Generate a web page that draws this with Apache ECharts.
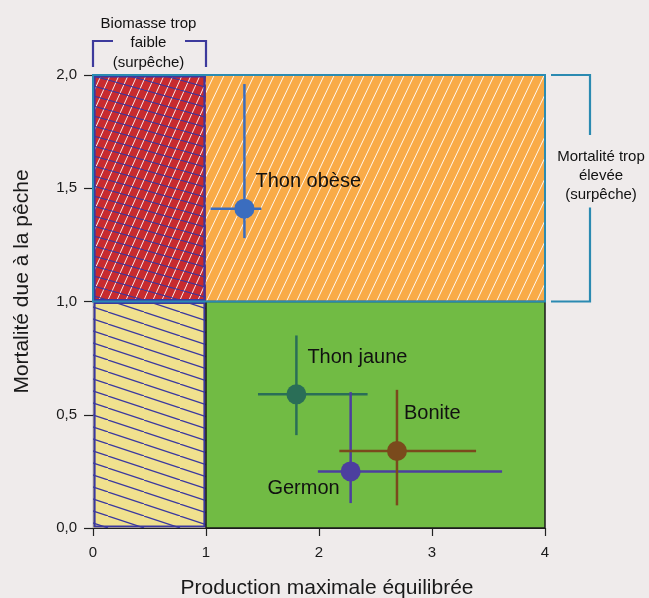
<!DOCTYPE html>
<html>
<head>
<meta charset="utf-8">
<script src="https://cdn.jsdelivr.net/npm/echarts@6/dist/echarts.min.js"></script>
<style>
  html, body { margin: 0; padding: 0; background: #efebeb; }
  #chart { width: 649px; height: 598px; }
</style>
</head>
<body>
<div id="chart"></div>
<script>
// Axis ticks
const xTicks = [0, 1, 2, 3, 4];
const yTicks = [0, 0.5, 1, 1.5, 2];

// Stock status: biomass ratio (B/BPME) and fishing mortality ratio (F/FPME)
const stocks = ['Thon obèse', 'Thon jaune', 'Germon', 'Bonite'];
const biomass = [1.34, 1.80, 2.28, 2.69];
const mortality = [1.41, 0.59, 0.25, 0.34];
const biomassLow = [1.04, 1.46, 1.99, 2.18];
const biomassHigh = [1.49, 2.43, 3.62, 3.39];
const mortalityLow = [1.28, 0.41, 0.11, 0.10];
const mortalityHigh = [1.96, 0.85, 0.60, 0.61];

// Status zones: [xmin, ymin, xmax, ymax]
const zoneOverfishing = [1, 1, 4, 2];
const zoneBoth = [0, 1, 1, 2];
const zoneLowBiomass = [0, 0, 1, 1];
const zoneHealthy = [1, 0, 4, 1];

// Annotation texts
const lowBiomassText = 'Biomasse trop\nfaible\n(surpêche)';
const highMortalityText = 'Mortalité trop\nélevée\n(surpêche)';

const stockColors = ['#3b6dbf', '#2a6e57', '#4c3f9f', '#7a4a1c'];
const FONT = '"Liberation Sans", Arial, sans-serif';

// Repeating hatch tile: one diagonal across the tile, wrapped on both sides
function hatch(w, h, color, lw, rising, bg) {
  const c = document.createElement('canvas');
  c.width = w; c.height = h;
  const g = c.getContext('2d');
  if (bg) { g.fillStyle = bg; g.fillRect(0, 0, w, h); }
  g.strokeStyle = color; g.lineWidth = lw;
  for (let k = -1; k <= 1; k++) {
    g.beginPath();
    if (rising) { g.moveTo(k * w, h); g.lineTo(k * w + w, 0); }
    else { g.moveTo(k * w, 0); g.lineTo(k * w + w, h); }
    g.stroke();
  }
  return { image: c, repeat: 'repeat' };
}

const zoneStyles = [
  { layers: [hatch(10, 21, 'rgba(255,255,255,0.9)', 1, true, '#f9ab48')], stroke: null },
  { layers: [hatch(9, 20, 'rgba(255,255,255,0.9)', 1, true, '#c72b2f'),
             hatch(36, 10, '#3a38a0', 1.2, false, null)], stroke: '#3a38a0' },
  { layers: [hatch(36, 12, '#3a38a0', 1.2, false, '#f0e18e')], stroke: '#3a38a0' },
  { layers: ['#71bb44'], stroke: '#1a1a1a', outer: true }
];

const chart = echarts.init(document.getElementById('chart'), null, { renderer: 'canvas' });

const option = {
  backgroundColor: '#efebeb',
  animation: false,
  grid: { left: 93, right: 104, top: 75, bottom: 70, containLabel: false, outerBoundsMode: 'none' },
  xAxis: {
    type: 'value', min: 0, max: 4, interval: 1,
    name: 'Production maximale équilibrée',
    nameLocation: 'middle', nameGap: 50,
    nameTextStyle: { fontFamily: FONT, fontSize: 21, color: '#1a1a1a', padding: [0, 0, 0, 16] },
    axisLine: { onZero: false, lineStyle: { color: '#222', width: 1.2 } },
    axisTick: { length: 8, lineStyle: { color: '#222', width: 1.2 } },
    axisLabel: { fontFamily: FONT, fontSize: 15, color: '#1a1a1a', margin: 17,
                 formatter: v => String(v) },
    splitLine: { show: false }
  },
  yAxis: {
    type: 'value', min: 0, max: 2, interval: 0.5,
    name: 'Mortalité due à la pêche',
    nameLocation: 'middle', nameGap: 60,
    nameTextStyle: { fontFamily: FONT, fontSize: 21, color: '#1a1a1a', padding: [0, 0, 0, 40] },
    axisLine: { show: true, onZero: false, lineStyle: { color: '#222', width: 1.2 } },
    axisTick: { show: true, length: 9, lineStyle: { color: '#222', width: 1.2 } },
    axisLabel: { fontFamily: FONT, fontSize: 15, color: '#1a1a1a', margin: 16,
                 formatter: v => v.toFixed(1).replace('.', ',') },
    splitLine: { show: false }
  },
  series: [
    {
      type: 'custom',
      name: 'zones',
      z: 1,
      silent: true,
      data: [zoneOverfishing, zoneBoth, zoneLowBiomass, zoneHealthy],
      renderItem(params, api) {
        const tl = api.coord([api.value(0), api.value(3)]);
        const br = api.coord([api.value(2), api.value(1)]);
        const st = zoneStyles[params.dataIndex];
        const shape = { x: tl[0], y: tl[1], width: br[0] - tl[0], height: br[1] - tl[1] };
        const children = st.layers.map(f => ({ type: 'rect', shape, style: { fill: f } }));
        if (st.stroke) {
          const inset = st.outer ? 0 : 1.5;
          children.push({
            type: 'rect',
            shape: { x: shape.x + inset, y: shape.y + inset,
                     width: shape.width - 2 * inset, height: shape.height - 2 * inset },
            style: { fill: null, stroke: st.stroke, lineWidth: st.outer ? 1.5 : 2.2 }
          });
        }
        return { type: 'group', children };
      }
    },
    {
      // outline of the high-mortality band
      type: 'custom',
      name: 'band',
      z: 2,
      silent: true,
      data: [[0, 1, 4, 2]],
      renderItem(params, api) {
        const tl = api.coord([api.value(0), api.value(3)]);
        const br = api.coord([api.value(2), api.value(1)]);
        return {
          type: 'rect',
          shape: { x: tl[0], y: tl[1], width: br[0] - tl[0], height: br[1] - tl[1] },
          style: { fill: null, stroke: '#2a8bb2', lineWidth: 2 }
        };
      }
    },
    {
      type: 'custom',
      name: 'errors',
      z: 3,
      silent: true,
      data: stocks.map((s, i) => [biomass[i], mortality[i], biomassLow[i], biomassHigh[i], mortalityLow[i], mortalityHigh[i]]),
      renderItem(params, api) {
        const c = stockColors[params.dataIndex];
        const x = api.value(0), y = api.value(1);
        const h0 = api.coord([api.value(2), y]), h1 = api.coord([api.value(3), y]);
        const v0 = api.coord([x, api.value(4)]), v1 = api.coord([x, api.value(5)]);
        return {
          type: 'group',
          children: [
            { type: 'line', shape: { x1: h0[0], y1: h0[1], x2: h1[0], y2: h1[1] },
              style: { stroke: c, lineWidth: 2.5 } },
            { type: 'line', shape: { x1: v0[0], y1: v0[1], x2: v1[0], y2: v1[1] },
              style: { stroke: c, lineWidth: 2.5 } }
          ]
        };
      }
    },
    {
      type: 'scatter',
      name: 'stocks',
      z: 4,
      symbolSize: 20,
      data: stocks.map((s, i) => ({
        name: s,
        value: [biomass[i], mortality[i]],
        itemStyle: { color: stockColors[i], opacity: 1 },
        label: [
          { align: 'left', offset: [11, -27] },
          { align: 'left', offset: [11, -37] },
          { align: 'right', offset: [-11, 17] },
          { align: 'left', offset: [7, -38] }
        ][i]
      })),
      label: {
        show: true,
        position: 'inside',
        verticalAlign: 'middle',
        formatter: p => p.name,
        fontFamily: FONT, fontSize: 20, color: '#111'
      }
    }
  ]
};

chart.setOption(option);

// Brackets marking the over-fishing thresholds
function px(pt) { return chart.convertToPixel({ gridIndex: 0 }, pt); }
const a00 = px([0, 2]), a10 = px([1, 2]), a41 = px([4, 1]), a42 = px([4, 2]);
const topY = a00[1] - 34, leftBracket = '#3d3a9c', rightBracket = '#2b8ab1';
const rx = a42[0] + 45;
chart.setOption({
  graphic: [
    { type: 'polyline', silent: true,
      shape: { points: [[a00[0] + 20, topY], [a00[0], topY], [a00[0], a00[1] - 8]] },
      style: { stroke: leftBracket, lineWidth: 2.2, fill: null } },
    { type: 'polyline', silent: true,
      shape: { points: [[a10[0] - 21, topY], [a10[0], topY], [a10[0], a00[1] - 8]] },
      style: { stroke: leftBracket, lineWidth: 2.2, fill: null } },
    { type: 'text', silent: true, x: (a00[0] + a10[0]) / 2 - 1, y: topY - 27,
      style: { text: lowBiomassText, fontFamily: FONT, fontSize: 15, fill: '#111',
               align: 'center', verticalAlign: 'top', lineHeight: 19.5 } },
    { type: 'polyline', silent: true,
      shape: { points: [[a42[0] + 6, a42[1]], [rx, a42[1]], [rx, a42[1] + 60]] },
      style: { stroke: rightBracket, lineWidth: 2.2, fill: null } },
    { type: 'polyline', silent: true,
      shape: { points: [[a41[0] + 6, a41[1]], [rx, a41[1]], [rx, a41[1] - 94]] },
      style: { stroke: rightBracket, lineWidth: 2.2, fill: null } },
    { type: 'text', silent: true, x: rx + 11, y: a42[1] + 72,
      style: { text: highMortalityText, fontFamily: FONT, fontSize: 15, fill: '#111',
               align: 'center', verticalAlign: 'top', lineHeight: 19 } }
  ]
});
</script>
</body>
</html>
